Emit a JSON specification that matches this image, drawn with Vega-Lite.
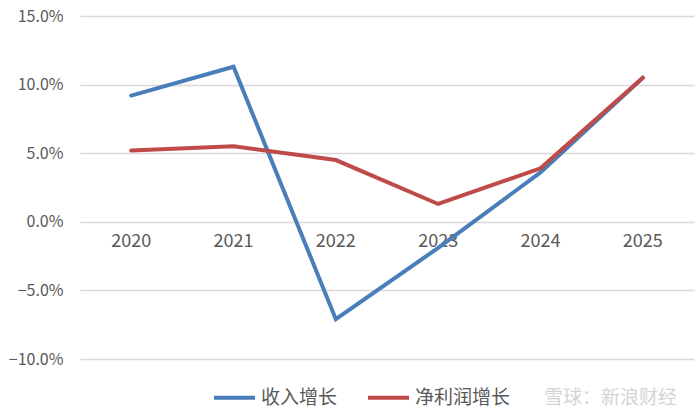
{
  "$schema": "https://vega.github.io/schema/vega-lite/v6.json",
  "width": 614,
  "height": 343,
  "autosize": "none",
  "padding": {"left": 80, "top": 16, "right": 5, "bottom": 55},
  "background": "white",
  "config": {
    "view": {"stroke": null},
    "font": "Noto Sans CJK SC"
  },
  "title": {
    "text": "雪球：新浪财经",
    "orient": "bottom",
    "anchor": "end",
    "fontSize": 19,
    "fontWeight": "normal",
    "color": "#d4d4d4",
    "offset": -19,
    "dx": -17
  },
  "data": {
    "values": [
      {"year": "2020", "series": "收入增长", "value": 0.092},
      {"year": "2021", "series": "收入增长", "value": 0.113},
      {"year": "2022", "series": "收入增长", "value": -0.071},
      {"year": "2023", "series": "收入增长", "value": -0.019},
      {"year": "2024", "series": "收入增长", "value": 0.036},
      {"year": "2025", "series": "收入增长", "value": 0.105},
      {"year": "2020", "series": "净利润增长", "value": 0.052},
      {"year": "2021", "series": "净利润增长", "value": 0.055},
      {"year": "2022", "series": "净利润增长", "value": 0.045},
      {"year": "2023", "series": "净利润增长", "value": 0.013},
      {"year": "2024", "series": "净利润增长", "value": 0.039},
      {"year": "2025", "series": "净利润增长", "value": 0.105}
    ]
  },
  "mark": {"type": "line", "strokeWidth": 4, "strokeCap": "round", "strokeJoin": "miter"},
  "encoding": {
    "x": {
      "field": "year", "type": "ordinal",
      "scale": {"type": "band", "paddingInner": 0, "paddingOuter": 0},
      "axis": {
        "title": null, "offset": -137, "domain": false, "ticks": false, "grid": false,
        "labelAngle": 0, "labelFontSize": 18, "labelColor": "#595959", "labelPadding": 10
      }
    },
    "y": {
      "field": "value", "type": "quantitative",
      "scale": {"domain": [-0.1, 0.15], "nice": false, "zero": false},
      "axis": {
        "title": null, "format": ".1%", "values": [-0.1, -0.05, 0, 0.05, 0.1, 0.15],
        "domain": false, "ticks": false, "grid": true, "gridColor": "#d9d9d9", "gridWidth": 1.5,
        "labelFontSize": 16, "labelColor": "#595959", "labelPadding": 17
      }
    },
    "color": {
      "field": "series", "type": "nominal",
      "sort": ["收入增长", "净利润增长"],
      "scale": {"domain": ["收入增长", "净利润增长"], "range": ["#4a7ebb", "#be4b48"]},
      "legend": {
        "title": null, "orient": "none", "direction": "horizontal",
        "legendX": 132, "legendY": 359, "padding": 0,
        "symbolType": "stroke", "symbolSize": 1681, "symbolStrokeWidth": 4,
        "labelFontSize": 19, "labelColor": "#595959", "labelOffset": 4, "columnPadding": 22
      }
    }
  }
}
